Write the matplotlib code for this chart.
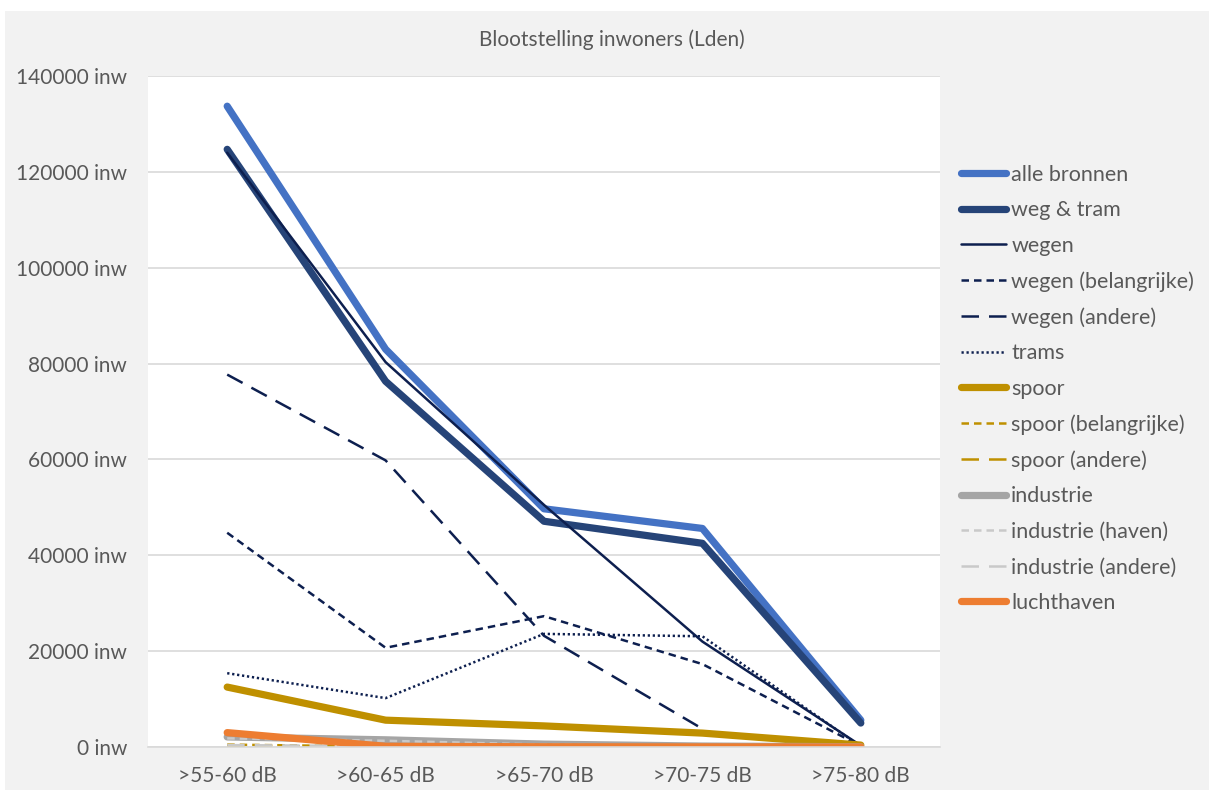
import matplotlib
matplotlib.use('Agg')
import matplotlib.pyplot as plt
import numpy as np

# categories and values (inwoners)
categories = ['>55-60 dB', '>60-65 dB', '>65-70 dB', '>70-75 dB', '>75-80 dB']
alle_bronnen = [133700, 83000, 49700, 45600, 5600]
weg_tram = [124700, 76300, 47100, 42500, 5000]
wegen = [124000, 80300, 50500, 22000, 300]
wegen_belangrijke = [44700, 20700, 27300, 17300, 200]
wegen_andere = [77700, 59800, 23200, 3800, np.nan]
trams = [15400, 10200, 23600, 23100, 100]
spoor = [12500, 5600, 4400, 2900, 400]
spoor_belangrijke = [500, 100, 50, 20, 0]
spoor_andere = [250, 0, 0, 0, 0]
industrie = [2100, 1500, 600, 200, 50]
industrie_haven = [1800, 1300, 500, 150, 30]
industrie_andere = [400, 200, 100, 50, 10]
luchthaven = [3000, 150, 50, 20, 0]

yticks = [0, 20000, 40000, 60000, 80000, 100000, 120000, 140000]

txt = '#595959'
plt.rcParams['font.family'] = ['Lato', 'DejaVu Sans']

fig = plt.figure(figsize=(12.09, 7.94), dpi=100)
fig.patch.set_facecolor('white')
fig.patches.append(plt.Rectangle((5/1209, 4/794), 1, 779/794, transform=fig.transFigure,
                                 facecolor='#F2F2F2', edgecolor='none', zorder=-10))
ax = fig.add_axes([148/1209, 47/794, 792/1209, 671/794])
ax.set_facecolor('white')

x = np.arange(len(categories))
series = [
    ('alle bronnen', alle_bronnen, '#4472C4', 5.2, '-'),
    ('weg & tram', weg_tram, '#264478', 5.2, '-'),
    ('wegen', wegen, '#0D1F4F', 1.8, '-'),
    ('wegen (belangrijke)', wegen_belangrijke, '#0D1F4F', 1.8, (0, (3, 2))),
    ('wegen (andere)', wegen_andere, '#0D1F4F', 1.8, (0, (7, 4))),
    ('trams', trams, '#0D1F4F', 1.8, (0, (0.9, 1.1))),
    ('spoor', spoor, '#BF9000', 5.2, '-'),
    ('spoor (belangrijke)', spoor_belangrijke, '#BF9000', 1.8, (0, (3, 2))),
    ('spoor (andere)', spoor_andere, '#BF9000', 1.8, (0, (7, 4))),
    ('industrie', industrie, '#A5A5A5', 5.2, '-'),
    ('industrie (haven)', industrie_haven, '#C9C9C9', 1.8, (0, (3, 2))),
    ('industrie (andere)', industrie_andere, '#C9C9C9', 1.8, (0, (7, 4))),
    ('luchthaven', luchthaven, '#ED7D31', 5.2, '-'),
]
for name, vals, col, lw, ls in series:
    ax.plot(x, vals, color=col, lw=lw, ls=ls, label=name,
            solid_capstyle='round', solid_joinstyle='round', dash_capstyle='butt')

ax.set_xlim(-0.5, len(categories) - 0.5)
ax.set_ylim(0, 140000)
ax.set_yticks(yticks)
ax.set_yticklabels([f'{v} inw' for v in yticks])
ax.set_xticks(x)
ax.set_xticklabels(categories)
ax.tick_params(axis='both', length=0, labelsize=15, labelcolor=txt)
ax.tick_params(axis='y', pad=15)
ax.tick_params(axis='x', pad=14)
ax.yaxis.grid(True, color='#D9D9D9', lw=1.2)
ax.set_axisbelow(True)
for s in ['top', 'right', 'left']:
    ax.spines[s].set_visible(False)
ax.spines['bottom'].set_color('#D9D9D9')
ax.spines['bottom'].set_linewidth(1.2)

fig.text(0.506, 1 - 40/794, 'Blootstelling inwoners (Lden)', ha='center', va='center',
         fontsize=15, color=txt)

fig.legend(loc='upper left', bbox_to_anchor=(952/1209, 1 - 156/794), frameon=False,
           fontsize=15.5, labelcolor=txt, handlelength=2.1, handletextpad=0.25,
           labelspacing=0.72, borderaxespad=0)

plt.savefig('out.png', dpi=100, facecolor=fig.get_facecolor())
